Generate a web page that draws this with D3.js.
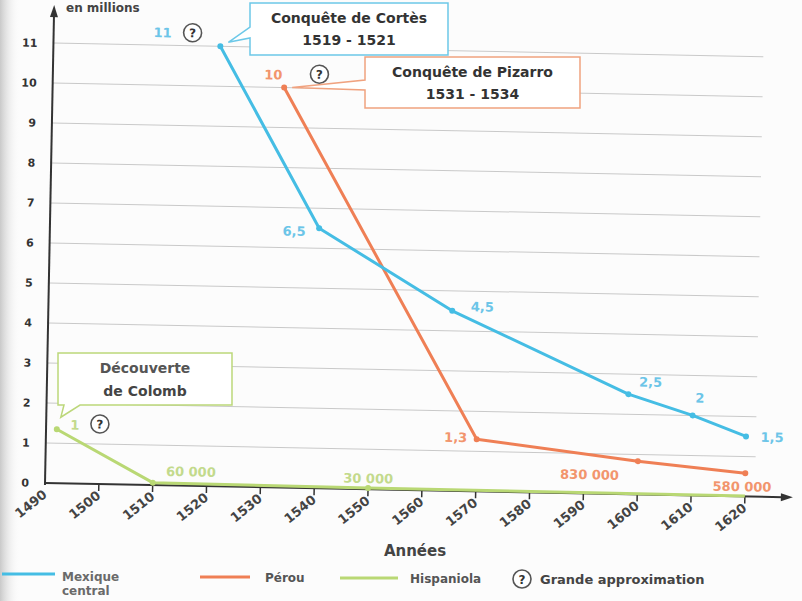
<!DOCTYPE html>
<html>
<head>
<meta charset="utf-8">
<script src="https://cdn.jsdelivr.net/npm/d3@7"></script>
<style>
  body { margin: 0; background: #fcfcfc; }
  svg text { font-family: "DejaVu Sans", sans-serif; font-weight: bold; }
</style>
</head>
<body>
<svg id="chart" width="802" height="601"></svg>
<script>
// data (population in millions)
var years = [1490, 1500, 1510, 1520, 1530, 1540, 1550, 1560, 1570, 1580, 1590, 1600, 1610, 1620];
var yTicks = [0, 1, 2, 3, 4, 5, 6, 7, 8, 9, 10, 11];
var mexiqueYears = [1521, 1540, 1565, 1598, 1610, 1620];
var mexiqueValues = [11, 6.5, 4.5, 2.5, 2, 1.5];
var mexiqueLabels = ["11", "6,5", "4,5", "2,5", "2", "1,5"];
var perouYears = [1533, 1570, 1600, 1620];
var perouValues = [10, 1.3, 0.83, 0.58];
var perouLabels = ["10", "1,3", "830 000", "580 000"];
var hispaYears = [1492, 1510, 1550, 1620];
var hispaValues = [1.35, 0.06, 0.03, 0.01];
var hispaLabels = ["1", "60 000", "30 000", ""];

var blue = "#45bde4", orange = "#ef7f55", green = "#b9d874";
var blueTxt = "#6cc5e8", orangeTxt = "#f2956d", greenTxt = "#c3da8c";

var svg = d3.select("#chart");

// page shade at the left edge (photo)
var defs = svg.append("defs");
var grad = defs.append("linearGradient").attr("id", "shade").attr("x1", 0).attr("x2", 1);
grad.append("stop").attr("offset", 0).attr("stop-color", "#c9c9c9");
grad.append("stop").attr("offset", 1).attr("stop-color", "#fcfcfc").attr("stop-opacity", 0);
svg.append("rect").attr("x", 0).attr("y", 0).attr("width", 20).attr("height", 601).attr("fill", "url(#shade)");

var ox = 45, oy = 483, ang = 1.1;
var rad = ang * Math.PI / 180;
var toScreen = function(u, v) {
  return [ox + u * Math.cos(rad) - v * Math.sin(rad), oy + u * Math.sin(rad) + v * Math.cos(rad)];
};

var x = d3.scaleLinear().domain([1490, 1620]).range([0, 700]);
var y = d3.scaleLinear().domain([0, 11]).range([0, -440]);

var g = svg.append("g").attr("transform", "translate(" + ox + "," + oy + ") rotate(" + ang + ")");

// grid
g.selectAll(".grid").data(yTicks.slice(1)).enter().append("line")
  .attr("x1", 0).attr("x2", 710)
  .attr("y1", function(d) { return y(d); }).attr("y2", function(d) { return y(d); })
  .attr("stroke", "#c9c9c9").attr("stroke-width", 1);

// y axis
g.append("line").attr("x1", 0).attr("x2", 0).attr("y1", 2).attr("y2", -468)
  .attr("stroke", "#333").attr("stroke-width", 2);
g.append("path").attr("d", "M0,-478 L-4,-466 L4,-466 Z").attr("fill", "#333");
g.selectAll(".ylab").data(yTicks).enter().append("text")
  .attr("x", -16).attr("y", function(d) { return y(d) + 4; })
  .attr("text-anchor", "end").attr("font-size", 11).attr("fill", "#333")
  .text(function(d) { return d; });

// x axis
g.append("line").attr("x1", 0).attr("x2", 738).attr("y1", 0).attr("y2", 0)
  .attr("stroke", "#333").attr("stroke-width", 2);
g.append("path").attr("d", "M748,0 L736,-4 L736,4 Z").attr("fill", "#333");
g.selectAll(".xtick").data(years.slice(1)).enter().append("line")
  .attr("x1", function(d) { return x(d); }).attr("x2", function(d) { return x(d); })
  .attr("y1", 0).attr("y2", 7).attr("stroke", "#333").attr("stroke-width", 1.5);
g.selectAll(".xlab").data(years).enter().append("text")
  .attr("transform", function(d) { return "translate(" + (x(d) + 3) + ",13) rotate(-40)"; })
  .attr("text-anchor", "end").attr("font-size", 13).attr("fill", "#444")
  .text(function(d) { return d; });

// series
var line = d3.line().x(function(d) { return x(d[0]); }).y(function(d) { return y(d[1]); });
var series = [
  { yr: hispaYears, val: hispaValues, lab: hispaLabels, col: green, txt: greenTxt,
    off: [[18, 0], [38, -7], [0, -5], [0, 0]] },
  { yr: perouYears, val: perouValues, lab: perouLabels, col: orange, txt: orangeTxt,
    off: [[-11, -8], [-21, 3], [-48, 19], [-3, 18]] },
  { yr: mexiqueYears, val: mexiqueValues, lab: mexiqueLabels, col: blue, txt: blueTxt,
    off: [[-58, -8], [-25, 8], [30, 0], [22, -8], [7, -13], [26, 5]] }
];
series.forEach(function(s) {
  var pts = s.yr.map(function(d, i) { return [d, s.val[i]]; });
  g.append("path").attr("d", line(pts)).attr("fill", "none")
    .attr("stroke", s.col).attr("stroke-width", 3).attr("stroke-linejoin", "round");
  g.selectAll(null).data(pts.slice(0, s.col == green ? 3 : pts.length)).enter().append("circle")
    .attr("cx", function(d) { return x(d[0]); }).attr("cy", function(d) { return y(d[1]); })
    .attr("r", 3).attr("fill", s.col);
  g.selectAll(null).data(pts).enter().append("text")
    .attr("x", function(d, i) { return x(d[0]) + s.off[i][0]; })
    .attr("y", function(d, i) { return y(d[1]) + s.off[i][1]; })
    .attr("text-anchor", "middle").attr("font-size", 13).attr("fill", s.txt)
    .text(function(d, i) { return s.lab[i]; });
});

// "?" marks
var qmark = function(parent, cx, cy) {
  parent.append("circle").attr("cx", cx).attr("cy", cy).attr("r", 9)
    .attr("fill", "#fff").attr("stroke", "#555").attr("stroke-width", 1.6);
  parent.append("text").attr("x", cx).attr("y", cy + 4.5).attr("text-anchor", "middle")
    .attr("font-size", 12).attr("fill", "#333").text("?");
};
qmark(g, x(mexiqueYears[0]) - 28, y(mexiqueValues[0]) - 13);
qmark(g, x(perouYears[0]) + 35, y(perouValues[0]) - 14);
qmark(g, x(hispaYears[0]) + 43, y(hispaValues[0]) - 6);

// callout boxes (screen coordinates)
var callout = function(bx, by, bw, bh, tip, tailTop, tailBot, col, lines) {
  var d = "M" + bx + "," + by + " H" + (bx + bw) + " V" + (by + bh) + " H" + bx +
          " V" + tailBot + " L" + tip[0] + "," + tip[1] + " L" + bx + "," + tailTop + " Z";
  svg.append("path").attr("d", d).attr("fill", "#fff").attr("stroke", col).attr("stroke-width", 1.5);
  lines.forEach(function(t, i) {
    svg.append("text").attr("x", bx + bw / 2).attr("y", by + 20 + i * 22)
      .attr("text-anchor", "middle").attr("font-size", 14).attr("fill", "#333").text(t);
  });
};
var pM = toScreen(x(mexiqueYears[0]), y(mexiqueValues[0]));
callout(250, 3, 198, 52, [pM[0] + 8, pM[1] - 4], 27, 38, "#6cc8e8", ["Conquête de Cortès", "1519 - 1521"]);
var pP = toScreen(x(perouYears[0]), y(perouValues[0]));
callout(365, 57, 215, 51, [pP[0] + 8, pP[1]], 80, 90, "#f0a27f", ["Conquête de Pizarro", "1531 - 1534"]);

// Colomb box: tail down-left
var pH = toScreen(x(hispaYears[0]), y(hispaValues[0]));
svg.append("path")
  .attr("d", "M58,353 H232 V405 H80 L" + (pH[0] + 4) + "," + (pH[1] - 12) + " L64,405 H58 Z")
  .attr("fill", "#fff").attr("stroke", "#bcd77a").attr("stroke-width", 1.5);
svg.append("text").attr("x", 145).attr("y", 373).attr("text-anchor", "middle")
  .attr("font-size", 14).attr("fill", "#555").text("Découverte");
svg.append("text").attr("x", 145).attr("y", 396).attr("text-anchor", "middle")
  .attr("font-size", 14).attr("fill", "#444").text("de Colomb");

// axis titles
svg.append("text").attr("x", 66).attr("y", 12).attr("font-size", 12).attr("fill", "#444").text("en millions");
svg.append("text").attr("x", 415).attr("y", 556).attr("text-anchor", "middle")
  .attr("font-size", 15).attr("fill", "#444").text("Années");

// legend
var leg = svg.append("g");
leg.append("line").attr("x1", 2).attr("x2", 55).attr("y1", 574).attr("y2", 574).attr("stroke", blue).attr("stroke-width", 3);
leg.append("text").attr("x", 62).attr("y", 581).attr("font-size", 12).attr("fill", "#6a6a6a").text("Mexique");
leg.append("text").attr("x", 62).attr("y", 595).attr("font-size", 12).attr("fill", "#6a6a6a").text("central");
leg.append("line").attr("x1", 200).attr("x2", 250).attr("y1", 577).attr("y2", 577).attr("stroke", orange).attr("stroke-width", 3);
leg.append("text").attr("x", 265).attr("y", 582).attr("font-size", 12).attr("fill", "#555").text("Pérou");
leg.append("line").attr("x1", 340).attr("x2", 398).attr("y1", 578).attr("y2", 578).attr("stroke", green).attr("stroke-width", 3);
leg.append("text").attr("x", 410).attr("y", 583).attr("font-size", 12).attr("fill", "#555").text("Hispaniola");
qmark(leg, 522, 579);
leg.append("text").attr("x", 540).attr("y", 584).attr("font-size", 13).attr("fill", "#444").text("Grande approximation");
</script>
</body>
</html>
